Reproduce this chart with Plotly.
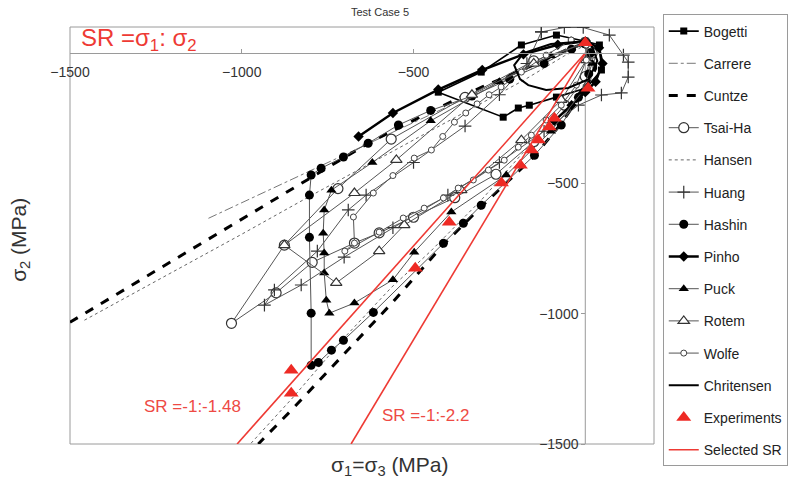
import plotly.graph_objects as go

# ---------------- data ----------------
bogetti_x = [0, -84, -186, -303, -428, -239, -195, -163, -84, 3, 47, 41, 0]
bogetti_y = [45, 69, 31, -73, -150, -246, -211, -200, -169, -134, -65, 31, 45]

carrere_x = [-1097, -900, -700, -556, -400, -250, -130, -40, 10, 30, 20]
carrere_y = [-634, -512, -390, -300, -205, -115, -45, 15, 40, 0, -80]

cuntze_x = [-1500, -1200, -900, -798, -632, -450, -300, -150, -50, 0, 30, 30, 0, -70,
            -148, -303, -413, -560, -700, -856, -952]
cuntze_y = [-1033, -796, -560, -480, -346, -225, -130, -45, 15, 38, 10, -60, -135, -270,
            -395, -590, -735, -955, -1150, -1371, -1500]

tsaiha_x = [0, -150, -350, -565, -720, -876, -1030, -900, -795, -672, -600, -500, -380,
            -260, -150, -60, 0, 20, 0]
tsaiha_y = [40, -30, -170, -330, -520, -737, -1037, -920, -803, -729, -690, -630, -555,
            -465, -340, -200, -90, 0, 40]

hansen_x = [-1458, -1200, -1000, -800, -565, -350, -180, -60, 0, 25, 15, -30, -120, -300,
            -450, -565, -700, -850, -975]
hansen_y = [-1025, -840, -695, -548, -380, -225, -105, -10, 30, -30, -110, -190, -290, -560,
            -760, -900, -1090, -1320, -1500]

huang_x = [-128, -61, -6, 70, 111, 125, 125, 105, 47, -20, -120, -250, -400, -560, -702,
           -827, -934, -905, -780, -690, -638, -500, -350, -250, -170, -128]
huang_y = [81, 98, 98, 69, -8, -35, -92, -153, -161, -200, -300, -420, -545, -670, -783,
           -890, -967, -909, -760, -602, -545, -420, -280, -160, -40, 81]

hashin_x = [0, -40, -120, -220, -330, -450, -544, -632, -704, -769, -798, -803, -803, -798,
            -798, -777, -739, -704, -617, -413, -355, -303, -148, -70, -20, 10, 15, 0]
hashin_y = [35, 15, -40, -100, -165, -220, -276, -346, -399, -442, -468, -545, -707, -998,
            -1198, -1187, -1140, -1102, -995, -730, -653, -584, -392, -276, -170, -80, 0, 35]

pinho_x = [-660, -560, -428, -300, -180, -80, 0, 40, 50, 30, 0, -40, -90]
pinho_y = [-320, -230, -140, -65, -5, 32, 45, 20, -40, -110, -150, -200, -260]

puck_x = [0, -100, -250, -450, -620, -739, -760, -763, -760, -760, -754, -745, -672, -560,
          -498, -390, -230, -100, -10, 20, 0]
puck_y = [40, -10, -110, -260, -420, -526, -602, -691, -767, -844, -948, -998, -959, -870,
          -764, -610, -468, -300, -150, -40, 40]

rotem_x = [0, -150, -330, -550, -672, -876, -725, -600, -527, -361, -186, -70, 3, 0]
rotem_y = [40, -40, -160, -410, -537, -737, -882, -760, -660, -526, -334, -180, -27, 40]

wolfe_x = [-41, -114, -186, -245, -280, -315, -348, -381, -415, -448, -498, -560, -617, -675,
           -672, -700, -600, -530, -469, -413, -370, -326, -282, -236, -195, -157, -114, -70,
           -26, 3, 3, -41]
wolfe_y = [50, -8, -73, -130, -160, -195, -230, -265, -320, -372, -403, -470, -537, -629,
           -729, -760, -687, -633, -595, -556, -518, -487, -449, -411, -361, -315, -257, -200,
           -123, -27, 31, 50]

chritensen_x = [0, -100, -180, -207, -190, -166, -114, -50, 10, 35, 20, 0]
chritensen_y = [45, 35, 0, -46, -100, -123, -142, -134, -100, -30, 25, 45]

exp_x = [0, 8, -90, -105, -137, -157, -189, -244, -396, -495, -856, -856]
exp_y = [40, -135, -250, -284, -334, -372, -430, -499, -649, -826, -1217, -1305]

sr_ratios = [1.48, 2.2]          # sigma2 / sigma1 for the two selected stress ratios
sr_y_end = -1500

x_ticks = [-1500, -1000, -500]
y_ticks = [-1500, -1000, -500]

# ---------------- figure ----------------
FONT = "Liberation Sans, Arial, sans-serif"
GRAY = "#555555"
fig = go.Figure()


def add(name, x, y, line, marker=None, mode="lines+markers"):
    fig.add_trace(go.Scatter(
        x=x, y=y, name=name, mode=mode if marker else "lines",
        line=line, marker=marker, legendgroup=name, cliponaxis=True))


add("Bogetti", bogetti_x, bogetti_y, dict(color="black", width=1.6),
    dict(symbol="square", size=7, color="black"))
add("Carrere", carrere_x, carrere_y, dict(color="#777777", width=1, dash="dashdot"))
add("Cuntze", cuntze_x, cuntze_y, dict(color="black", width=3, dash="dash"))
add("Tsai-Ha", tsaiha_x, tsaiha_y, dict(color=GRAY, width=1),
    dict(symbol="circle", size=10, color="white", line=dict(color="#333333", width=1.2)))
add("Hansen", hansen_x, hansen_y, dict(color="#666666", width=1, dash="dot"))
add("Huang", huang_x, huang_y, dict(color=GRAY, width=1),
    dict(symbol="cross-thin", size=9, color="#333333", line=dict(color="#333333", width=1.2)))
add("Hashin", hashin_x, hashin_y, dict(color=GRAY, width=1),
    dict(symbol="circle", size=9, color="black"))
add("Pinho", pinho_x, pinho_y, dict(color="black", width=2.5),
    dict(symbol="diamond", size=8, color="black"))
add("Puck", puck_x, puck_y, dict(color=GRAY, width=1),
    dict(symbol="triangle-up", size=9, color="black"))
add("Rotem", rotem_x, rotem_y, dict(color=GRAY, width=1),
    dict(symbol="triangle-up", size=10, color="white", line=dict(color="#333333", width=1.2)))
add("Wolfe", wolfe_x, wolfe_y, dict(color=GRAY, width=1),
    dict(symbol="circle", size=6, color="white", line=dict(color="#444444", width=1)))
add("Chritensen", chritensen_x, chritensen_y, dict(color="black", width=2))

fig.add_trace(go.Scatter(
    x=exp_x, y=exp_y, name="Experiments", mode="markers", legendgroup="Experiments",
    marker=dict(symbol="triangle-up", size=13, color="#ee2a24")))

sr_x, sr_y = [], []
for r in sr_ratios:
    sr_x += [0, sr_y_end / r, None]
    sr_y += [0, sr_y_end, None]
fig.add_trace(go.Scatter(
    x=sr_x, y=sr_y, name="Selected SR", mode="lines", legendgroup="Selected SR",
    line=dict(color="#ee3a34", width=1.6)))

X0, X1 = -1500, 200
Y0, Y1 = -1500, 100

fig.update_layout(
    width=812, height=482,
    margin=dict(l=70, r=158, t=27, b=38),
    paper_bgcolor="white", plot_bgcolor="white",
    font=dict(family=FONT, color="#333333"),
    xaxis=dict(range=[X0, X1], showgrid=False, zeroline=False,
               anchor="free", position=(0 - Y0) / (Y1 - Y0),
               showline=True, linecolor="#9a9a9a", linewidth=1,
               tickvals=x_ticks, ticks="inside", ticklen=4, tickcolor="#9a9a9a",
               ticklabelstandoff=6,
               tickfont=dict(size=14, color="#333333")),
    yaxis=dict(range=[Y0, Y1], showgrid=False, zeroline=False,
               anchor="free", position=(0 - X0) / (X1 - X0),
               showline=False,
               tickvals=y_ticks, ticks="outside", ticklen=4, tickcolor="#9a9a9a",
               tickfont=dict(size=14, color="#333333")),
    legend=dict(x=1.015, y=1.03, xanchor="left", yanchor="top",
                bordercolor="#9a9a9a", borderwidth=1, bgcolor="white",
                font=dict(size=14, color="#222222", family=FONT),
                traceorder="grouped", tracegroupgap=11, itemwidth=30,
                maxheight=475),
    showlegend=True,
)

# frame and the vertical axis line (x = 0, from 0 down)
fig.add_shape(type="rect", xref="paper", yref="paper", x0=0, x1=1, y0=0, y1=1,
              line=dict(color="#9a9a9a", width=1), layer="below")
fig.add_shape(type="line", xref="x", yref="y", x0=0, x1=0, y0=0, y1=Y0,
              line=dict(color="#9a9a9a", width=1), layer="below")

# texts
fig.add_annotation(text="Test Case 5", xref="paper", yref="paper", x=0.531, y=1.035,
                   xanchor="center", yanchor="middle",
                   showarrow=False, font=dict(size=11, color="#333333"))
fig.add_annotation(text="SR =σ<sub>1</sub>: σ<sub>2</sub>", xref="paper", yref="paper",
                   x=0.015, y=0.969, xanchor="left", yanchor="middle", showarrow=False,
                   font=dict(size=24, color="#ee3a34"))
fig.add_annotation(text="σ<sub>2</sub> (MPa)", xref="paper", yref="paper",
                   x=-0.086, y=0.489, xanchor="center", yanchor="middle",
                   textangle=-90, showarrow=False,
                   font=dict(size=21, color="#333333"))
fig.add_annotation(text="σ<sub>1</sub>=σ<sub>3</sub> (MPa)", xref="paper", yref="paper",
                   x=0.548, y=-0.053, xanchor="center", yanchor="middle", showarrow=False,
                   font=dict(size=21, color="#333333"))
fig.add_annotation(text="SR =-1:-1.48", xref="paper", yref="paper",
                   x=0.123, y=0.091, xanchor="left", yanchor="middle", showarrow=False,
                   font=dict(size=17, color="#ee4a44"))
fig.add_annotation(text="SR =-1:-2.2", xref="paper", yref="paper",
                   x=0.531, y=0.0695, xanchor="left", yanchor="middle", showarrow=False,
                   font=dict(size=17, color="#ee4a44"))

fig.write_html("out.html")
